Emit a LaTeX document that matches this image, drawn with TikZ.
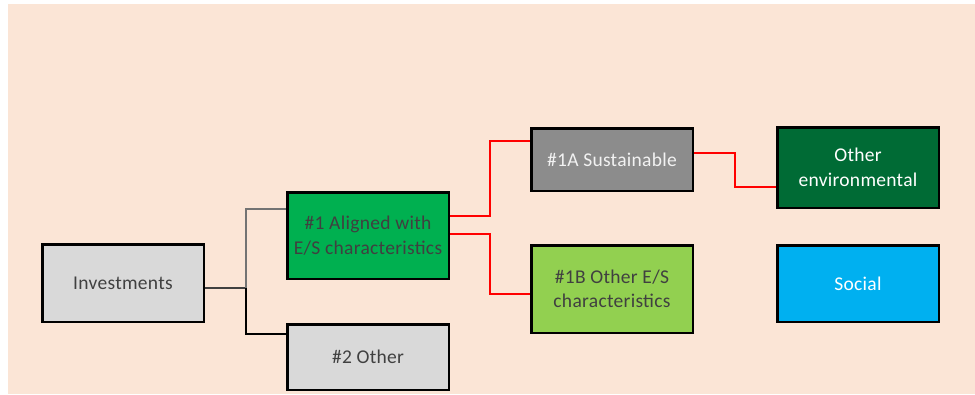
\documentclass[tikz,border=0pt]{standalone}
\usepackage{fontspec}
\setmainfont[LetterSpace=1.5]{Carlito}
\definecolor{peach}{HTML}{FBE5D6}
\definecolor{boxgray}{HTML}{D9D9D9}
\definecolor{txtgray}{HTML}{404040}
\definecolor{green1}{HTML}{00B050}
\definecolor{green1b}{HTML}{92D050}
\definecolor{gray1a}{HTML}{8C8C8C}
\definecolor{darkgreen}{HTML}{006B35}
\definecolor{socialblue}{HTML}{00B0F0}
\begin{document}
\begin{tikzpicture}[x=1pt,y=-1pt,
  box/.style={draw=black, line width=2.5pt, rectangle, minimum width=161.5pt, align=center, inner sep=0pt, font=\fontsize{19.5}{24.5}\selectfont},
  redline/.style={draw=red, line width=1.8pt},
  trunk/.style={draw=txtgray, line width=2.8pt}]
\useasboundingbox (0,0) rectangle (975,394);
\fill[peach] (8,4) rectangle (975,394);
\node[box, fill=boxgray, text=txtgray, minimum height=77.5pt] (inv) at (123,283) {Investments};
\node[box, fill=green1, text=txtgray, minimum height=86.5pt] (a1) at (368,235.5) {\#1 Aligned with\\E/S characteristics};
\node[box, fill=boxgray, text=txtgray, minimum height=65.5pt] (o2) at (368,357) {\#2 Other};
\node[box, fill=gray1a, text=white!95!black, minimum height=62.5pt] (s1a) at (612,159.5) {\#1A Sustainable};
\node[box, fill=green1b, text=txtgray, minimum height=87.5pt] (s1b) at (612,289) {\#1B Other E/S\\characteristics};
\node[box, fill=darkgreen, text=white, minimum height=80.5pt] (oe) at (858,167.5) {Other\\environmental};
\node[box, fill=socialblue, text=white, minimum height=76.5pt] (soc) at (858,283.5) {Social};
\coordinate (j) at (246,288);
\draw[trunk] ([yshift=-5pt]inv.east) -- (j);
\draw[draw=gray!90!black, line width=1.8pt] (j) |- ([yshift=26.5pt]a1.west);
\draw[draw=black, line width=1.8pt] (j) |- ([yshift=23pt]o2.west);
\draw[redline] ([yshift=19.5pt]a1.east) -- ++(40,0) |- ([yshift=18.5pt]s1a.west);
\draw[redline] ([yshift=1.5pt]a1.east) -- ++(40,0) |- ([yshift=-5pt]s1b.west);
\draw[redline] ([yshift=6.5pt]s1a.east) -- ++(41,0) |- ([yshift=-19.5pt]oe.west);
\end{tikzpicture}
\end{document}
